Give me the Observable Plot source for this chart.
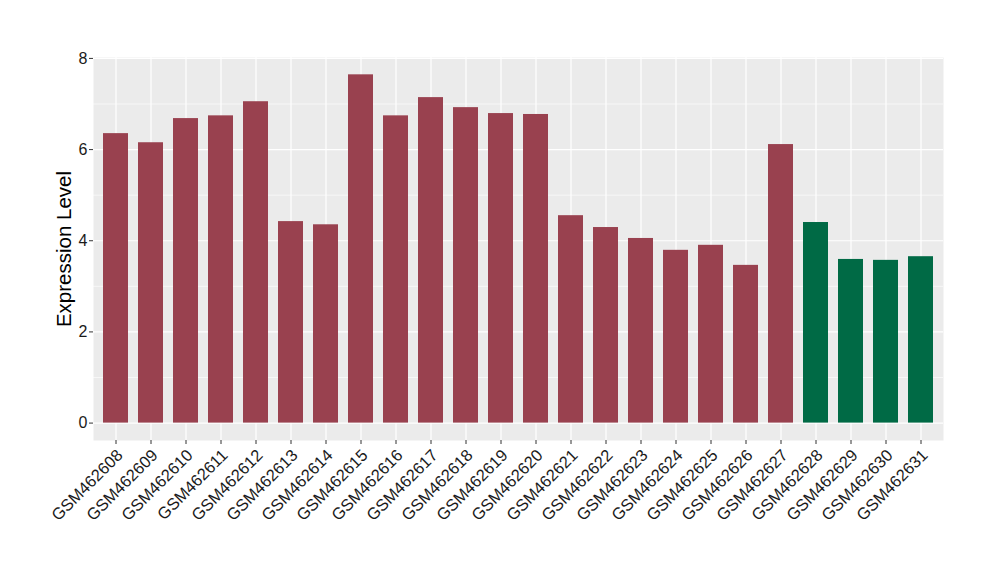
<!DOCTYPE html>
<html>
<head>
<meta charset="utf-8">
<script src="https://cdn.jsdelivr.net/npm/d3@7"></script>
<script src="https://cdn.jsdelivr.net/npm/@observablehq/plot@0.6"></script>
<style>
  html, body { margin: 0; padding: 0; background: #fff; }
  #chart { width: 1000px; height: 580px; }
</style>
</head>
<body>
<div id="chart"></div>
<script>
const samples = ["GSM462608","GSM462609","GSM462610","GSM462611","GSM462612","GSM462613","GSM462614","GSM462615","GSM462616","GSM462617","GSM462618","GSM462619","GSM462620","GSM462621","GSM462622","GSM462623","GSM462624","GSM462625","GSM462626","GSM462627","GSM462628","GSM462629","GSM462630","GSM462631"];
const values = [6.35,6.15,6.68,6.74,7.05,4.42,4.35,7.64,6.74,7.14,6.92,6.79,6.77,4.55,4.29,4.05,3.79,3.90,3.46,6.11,4.40,3.59,3.57,3.65];
const groups = ["A","A","A","A","A","A","A","A","A","A","A","A","A","A","A","A","A","A","A","A","B","B","B","B"];
const groupNames = ["A","B"];
const groupColors = ["#99414F","#006A45"];
const yMajor = [0,2,4,6,8];
const yMinor = [1,3,5,7];
const yLabel = "Expression Level";

const data = samples.map((s, i) => ({sample: s, value: values[i], group: groups[i]}));

const plot = Plot.plot({
  width: 1000,
  height: 580,
  marginLeft: 93,
  marginRight: 57,
  marginTop: 57,
  marginBottom: 140,
  style: {fontFamily: "'Liberation Sans', Arial, sans-serif", background: "#fff"},
  x: {domain: samples, paddingInner: 0.3, paddingOuter: 0.25, label: null},
  y: {domain: [-0.382, 8.02], label: null},
  color: {domain: groupNames, range: groupColors},
  marks: [
    Plot.frame({fill: "#EBEBEB", stroke: null}),
    Plot.ruleY(yMinor, {stroke: "#fff", strokeWidth: 0.6}),
    Plot.ruleY(yMajor, {stroke: "#fff", strokeWidth: 1.2}),
    Plot.ruleX(samples, {x: d => d, stroke: "#fff", strokeWidth: 1.2}),
    Plot.barY(data, {x: "sample", y1: 0, y2: "value", fill: "group"}),
    Plot.axisY({ticks: yMajor, tickSize: 4, tickPadding: 2, fontSize: 16, color: "#1a1a1a", stroke: "#333", label: null}),
    Plot.axisX({tickSize: 4, tickFormat: () => "", stroke: "#333", label: null}),
    Plot.axisX({tickSize: 0, tickPadding: 12, tickRotate: -45, fontSize: 16.5, dx: 4, color: "#1a1a1a", label: null}),
    Plot.text([yLabel], {frameAnchor: "left", textAnchor: "middle", rotate: -90, dx: -29, fontSize: 20.5, fill: "#000"})
  ]
});
document.getElementById("chart").appendChild(plot);
</script>
</body>
</html>
